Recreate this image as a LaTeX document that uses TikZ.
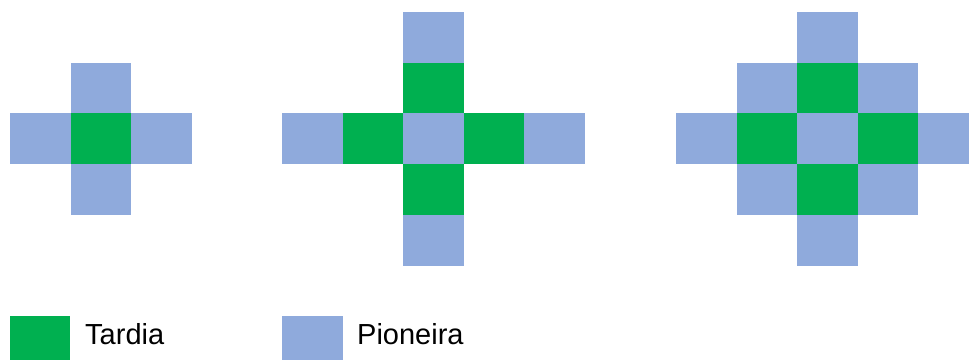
\documentclass[tikz,border=0pt]{standalone}
\usepackage{fontspec}
\setmainfont{Liberation Sans}
\usepackage{xcolor}
\definecolor{tardia}{HTML}{00B050}
\definecolor{pioneira}{HTML}{8FAADC}

\begin{document}
\begin{tikzpicture}[x=1pt, y=-1pt, legend/.style={anchor=base west, inner sep=0pt, font=\fontsize{29}{34}\selectfont}]
  \clip (0,0) rectangle (969,360);
  \def\cw{60.6}
  \def\ch{50.7}
  %% three patterns: col/row/colour, origin x of each
  \foreach \ox/\cells in {
    10/{1/1/pioneira, 0/2/pioneira, 1/2/tardia, 2/2/pioneira, 1/3/pioneira},
    282/{2/0/pioneira, 2/1/tardia, 0/2/pioneira, 1/2/tardia, 2/2/pioneira, 3/2/tardia, 4/2/pioneira, 2/3/tardia, 2/4/pioneira},
    676/{2/0/pioneira, 1/1/pioneira, 2/1/tardia, 3/1/pioneira, 0/2/pioneira, 1/2/tardia, 2/2/pioneira, 3/2/tardia, 4/2/pioneira, 1/3/pioneira, 2/3/tardia, 3/3/pioneira, 2/4/pioneira}}{
    \foreach \c/\r/\k in \cells{
      \fill[\k] (\ox+\c*\cw, 12+\r*\ch) rectangle ++(\cw,\ch);
    }
  }

  %% Legend
  \fill[tardia]   (10,316)  rectangle (70,360);
  \node[legend] (tardialbl) at (85,344) {Tardia};
  \fill[pioneira] (282,316) rectangle (343,360);
  \node[legend] (pioneiralbl) at (357,344) {Pioneira};
\end{tikzpicture}
\end{document}
